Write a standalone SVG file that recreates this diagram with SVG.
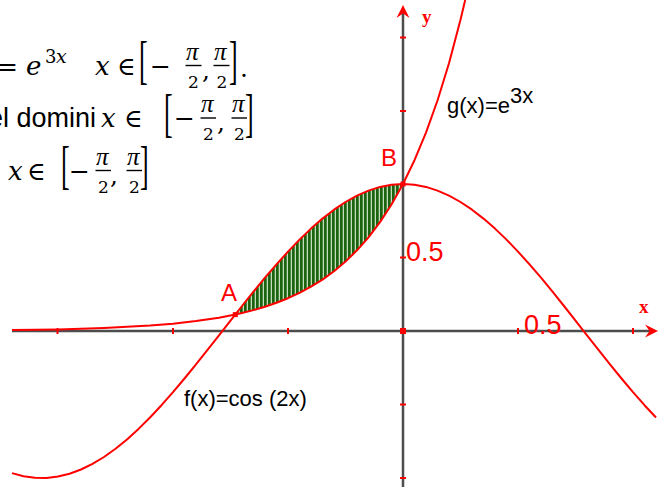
<svg xmlns="http://www.w3.org/2000/svg" width="665" height="489" viewBox="0 0 665 489">
<defs>
<pattern id="stripes" patternUnits="userSpaceOnUse" width="4" height="8">
<rect x="0" y="0" width="4" height="8" fill="#c4dcbc"/>
<rect x="0" y="0" width="2.7" height="8" fill="#1a6410"/>
</pattern>
</defs>
<style>
.m{font-family:"DejaVu Serif",serif;font-size:25px;fill:#000}
.mi{font-family:"DejaVu Serif",serif;font-size:26px;font-style:italic;fill:#000}
.fr{font-family:"DejaVu Serif",serif;font-size:17px;fill:#000}
.fri{font-family:"DejaVu Serif",serif;font-size:19px;font-style:italic;fill:#000}
.pi{font-family:"Liberation Serif","DejaVu Serif",serif;font-size:25px;font-style:italic;fill:#000}
.br{font-family:"Liberation Serif","DejaVu Serif",serif;font-size:26px;fill:#000}
.bar{stroke:#000;stroke-width:1.4}
.t{font-family:"Liberation Sans",Arial,sans-serif;fill:#000}
.lab{font-family:"Liberation Sans",Arial,sans-serif;fill:#ff0000}
.ax{stroke:#4d4d4d;stroke-width:2.5;fill:none}
.tick{stroke:#ff0000;stroke-width:2}
.curve{stroke:#ff0000;stroke-width:2;fill:none;stroke-linejoin:round}
.axl{font-family:"Liberation Serif","DejaVu Serif",serif;font-weight:bold;font-size:19px;fill:#ff0000}
</style>

<g id="formula">
<text class="m" x="-3" y="75">=</text>
<text class="mi" x="26" y="75">e</text>
<text class="fr" x="45" y="63" style="font-size:18px">3</text>
<text class="fri" x="56" y="63">x</text>
<text class="mi" x="95" y="75">x</text>
<text class="m" x="117" y="75">∈</text>
<text class="br" transform="translate(139,78) scale(1,2.05)">[</text>
<text class="m" x="150" y="75">−</text>
<text class="pi" x="186" y="60">π</text>
<line class="bar" x1="185.5" y1="65.5" x2="201.5" y2="65.5"/>
<text class="fr" x="188" y="88">2</text>
<text class="m" x="202" y="79">,</text>
<text class="pi" x="214" y="60">π</text>
<line class="bar" x1="213.5" y1="65.5" x2="229.5" y2="65.5"/>
<text class="fr" x="216.5" y="88">2</text>
<text class="br" transform="translate(229,78) scale(1,2.05)">]</text>
<text class="m" x="240" y="77">.</text>
</g>

<g id="line2">
<text class="t" x="-12" y="127" style="font-size:27px">el domini</text>
<text class="mi" x="101" y="127">x</text>
<text class="m" x="124" y="127">∈</text>
<text class="br" transform="translate(164,131) scale(1,2.05)">[</text>
<text class="m" x="174" y="127">−</text>
<text class="pi" x="201" y="112">π</text>
<line class="bar" x1="200.5" y1="118" x2="216" y2="118"/>
<text class="fr" x="203" y="140">2</text>
<text class="m" x="217" y="131">,</text>
<text class="pi" x="232" y="112">π</text>
<line class="bar" x1="231.5" y1="118" x2="247" y2="118"/>
<text class="fr" x="234" y="140">2</text>
<text class="br" transform="translate(245,131) scale(1,2.05)">]</text>
</g>

<g id="line3">
<text class="mi" x="8" y="180">x</text>
<text class="m" x="27" y="180">∈</text>
<text class="br" transform="translate(61,183) scale(1,2.05)">[</text>
<text class="m" x="69" y="180">−</text>
<text class="pi" x="96" y="165">π</text>
<line class="bar" x1="95.5" y1="170.5" x2="111" y2="170.5"/>
<text class="fr" x="98" y="193">2</text>
<text class="m" x="110" y="184">,</text>
<text class="pi" x="127" y="165">π</text>
<line class="bar" x1="126.5" y1="170.5" x2="142" y2="170.5"/>
<text class="fr" x="129" y="193">2</text>
<text class="br" transform="translate(140,183) scale(1,2.05)">]</text>
</g>

<g id="region">
<polygon fill="url(#stripes)" stroke="none" points="235.3,314.6 242,306 253.5,291.7 265,277.7 276.5,264.3 288,251.6 299.5,239.6 311,228.6 322.5,218.6 334,209.7 345.5,202 357,195.6 368.5,190.6 380,186.9 391.5,184.7 403,184 391.5,204.5 380,222.1 368.5,237.3 357,250.3 345.5,261.6 334,271.2 322.5,279.6 311,286.7 299.5,292.9 288,298.2 276.5,302.8 265,306.7 253.5,310.1 242,313"/>
</g>

<g id="axes">
<line class="ax" x1="12" y1="331" x2="650" y2="331"/>
<line class="ax" x1="403" y1="487" x2="403" y2="12"/>
<polygon fill="#ff0000" points="658,331 645,324.5 649.5,331 645,337.5"/>
<polygon fill="#ff0000" points="403,5 396.5,18 403,13.5 409.5,18"/>
<g class="tick">
<line x1="57.5" y1="328" x2="57.5" y2="334"/>
<line x1="173" y1="328" x2="173" y2="334"/>
<line x1="288" y1="328" x2="288" y2="334"/>
<line x1="518" y1="328" x2="518" y2="334"/>
<line x1="633" y1="328" x2="633" y2="334"/>
<line x1="400" y1="37.5" x2="406" y2="37.5"/>
<line x1="400" y1="111" x2="406" y2="111"/>
<line x1="400" y1="257.5" x2="406" y2="257.5"/>
<line x1="400" y1="404.5" x2="406" y2="404.5"/>
<line x1="400" y1="478" x2="406" y2="478"/>
</g>
<rect x="400" y="328" width="6" height="6" fill="#ff0000"/>
<text class="axl" x="422" y="23">y</text>
<text class="axl" x="639" y="313">x</text>
</g>

<g id="connectors">
<polyline id="f-curve" class="curve" points="12,473.1 23.5,476.2 35,477.8 46.5,477.9 58,476.5 69.5,473.7 81,469.5 92.5,463.9 104,457 115.5,448.8 127,439.4 138.5,428.9 150,417.5 161.5,405.2 173,392.2 184.5,378.5 196,364.4 207.5,349.9 219,335.3 230.5,320.6 242,306 253.5,291.7 265,277.7 276.5,264.3 288,251.6 299.5,239.6 311,228.6 322.5,218.6 334,209.7 345.5,202 357,195.6 368.5,190.6 380,186.9 391.5,184.7 403,184 414.5,184.7 426,186.9 437.5,190.6 449,195.6 460.5,202 472,209.7 483.5,218.6 495,228.6 506.5,239.6 518,251.6 529.5,264.3 541,277.7 552.5,291.7 564,306 575.5,320.6 587,335.3 598.5,349.9 610,364.4 621.5,378.5 633,392.2 644.5,405.2 656,417.5"/>
<polyline id="g-curve" class="curve" points="12,330.1 58,329.4 104,328 150,325.6 173,323.7 196,321.1 219,317.7 235.3,314.6 242,313 253.5,310.1 265,306.7 276.5,302.8 288,298.2 299.5,292.9 311,286.7 322.5,279.6 334,271.2 345.5,261.6 357,250.3 368.5,237.3 380,222.1 391.5,204.5 403,184 414.5,160.2 426,132.6 437.5,100.5 449,63.2 460.5,19.8 465.2,0"/>
</g>

<g id="pointA">
<rect x="232.8" y="312.1" width="5" height="5" fill="#ff0000"/>
<text class="lab" x="221" y="301" style="font-size:24px">A</text>
</g>
<g id="pointB">
<rect x="400.5" y="181.5" width="5" height="5" fill="#ff0000"/>
<text class="lab" x="381" y="166" style="font-size:24px">B</text>
</g>
<g id="labels">
<text class="lab" x="406" y="261" style="font-size:27px">0.5</text>
<text class="lab" x="524" y="334" style="font-size:27px">0.5</text>
<text class="t" x="447" y="113" style="font-size:22px">g(x)=e<tspan dy="-10">3x</tspan></text>
<text class="t" x="184" y="406" style="font-size:22px">f(x)=cos (2x)</text>
</g>
</svg>
